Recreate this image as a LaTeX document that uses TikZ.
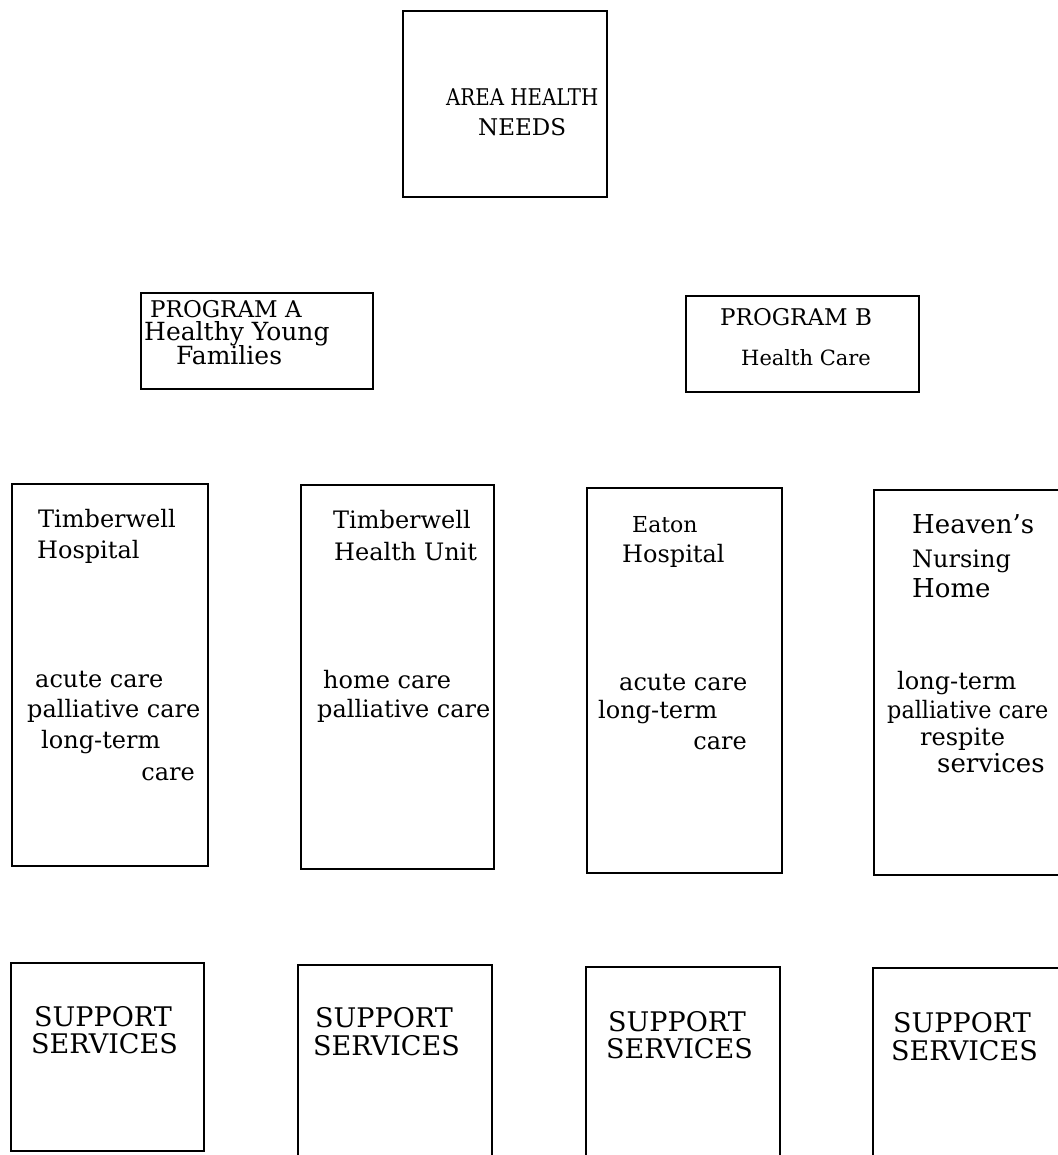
\documentclass[tikz,border=0pt]{standalone}
\usepackage{graphicx}
\usepackage{fontspec}
\setmainfont{DejaVu Serif}
\begin{document}
\begin{tikzpicture}[x=1pt,y=-1pt,
  box/.style={draw, line width=1.5pt, inner sep=0pt, fill=none},
  lbl/.style={anchor=base west, inner sep=0pt, font=\fontsize{24}{28}\selectfont},
  lblr/.style={anchor=base east, inner sep=0pt, font=\fontsize{24}{28}\selectfont},
  prog/.style={anchor=base west, inner sep=0pt, font=\fontsize{23}{27}\selectfont},
  caps/.style={anchor=base west, inner sep=0pt, font=\fontsize{27}{31}\selectfont},
  top/.style={anchor=base west, inner sep=0pt, font=\fontsize{23}{27}\selectfont}]
\fill[white] (0,0) rectangle (1057,1155);
\useasboundingbox (0,0) rectangle (1057,1155);

% top box
\node[box, minimum width=204pt, minimum height=186pt] (area) at (505,104) {};
\node[top] (areaA) at (446,106) {\scalebox{0.86}[1]{AREA HEALTH}};
\node[top] (areaB) at (478,136) {NEEDS};

% programs
\node[box, minimum width=232pt, minimum height=96pt] (proga) at (257,341) {};
\node[prog] (progaA) at (150,317) {PROGRAM A};
\node[prog, font=\fontsize{25}{29}\selectfont] (progaB) at (144,340) {Healthy Young};
\node[prog, font=\fontsize{25}{29}\selectfont] (progaC) at (176,364) {Families};

\node[box, minimum width=233pt, minimum height=96pt] (progb) at (802.5,344) {};
\node[prog] (progbA) at (720,325) {PROGRAM B};
\node[prog, font=\fontsize{21}{25}\selectfont] (progbB) at (741,365) {Health Care};

% facilities
\node[box, minimum width=196pt, minimum height=382pt] (thosp) at (110,675) {};
\node[lbl] (thospA) at (38,527) {Timberwell};
\node[lbl] (thospB) at (37,558) {Hospital};
\node[lbl] (thospC) at (35,687) {acute care};
\node[lbl] (thospD) at (27,717) {palliative care};
\node[lbl] (thospE) at (41,748) {long-term};
\node[lblr] (thospF) at (195,780) {care};

\node[box, minimum width=193pt, minimum height=384pt] (thu) at (397.5,677) {};
\node[lbl] (thuA) at (333,528) {Timberwell};
\node[lbl] (thuB) at (334,560) {Health Unit};
\node[lbl] (thuC) at (323,688) {home care};
\node[lbl] (thuD) at (317,717) {palliative care};

\node[box, minimum width=195pt, minimum height=385pt] (eaton) at (684.5,680.5) {};
\node[lbl, font=\fontsize{22}{26}\selectfont] (eatonA) at (632,532) {Eaton};
\node[lbl] (eatonB) at (622,562) {Hospital};
\node[lbl] (eatonC) at (619,690) {acute care};
\node[lbl] (eatonD) at (598,718) {long-term};
\node[lblr] (eatonE) at (747,749) {care};

\node[box, minimum width=191pt, minimum height=385pt] (heaven) at (969.5,682.5) {};
\node[lbl, font=\fontsize{26}{30}\selectfont] (heavenA) at (912,533) {Heaven's};
\node[lbl] (heavenB) at (912,567) {Nursing};
\node[lbl, font=\fontsize{26}{30}\selectfont] (heavenC) at (912,597) {Home};
\node[lbl] (heavenD) at (897,689) {long-term};
\node[lbl] (heavenE) at (887,718) {\scalebox{0.93}[1]{palliative care}};
\node[lbl] (heavenF) at (920,745) {respite};
\node[lbl, font=\fontsize{26}{30}\selectfont] (heavenG) at (937,772) {services};

% support services
\node[box, minimum width=193pt, minimum height=188pt] (supa) at (107.5,1057) {};
\node[caps] (supaA) at (34,1026) {SUPPORT};
\node[caps] (supaB) at (31,1053) {SERVICES};

\node[box, minimum width=194pt, minimum height=210pt] (supb) at (395,1070) {};
\node[caps] (supbA) at (315,1027) {SUPPORT};
\node[caps] (supbB) at (313,1055) {SERVICES};

\node[box, minimum width=194pt, minimum height=210pt] (supc) at (683,1072) {};
\node[caps] (supcA) at (608,1031) {SUPPORT};
\node[caps] (supcB) at (606,1058) {SERVICES};

\node[box, minimum width=192pt, minimum height=210pt] (supd) at (969,1073) {};
\node[caps] (supdA) at (893,1032) {SUPPORT};
\node[caps] (supdB) at (891,1060) {SERVICES};
\end{tikzpicture}
\end{document}
